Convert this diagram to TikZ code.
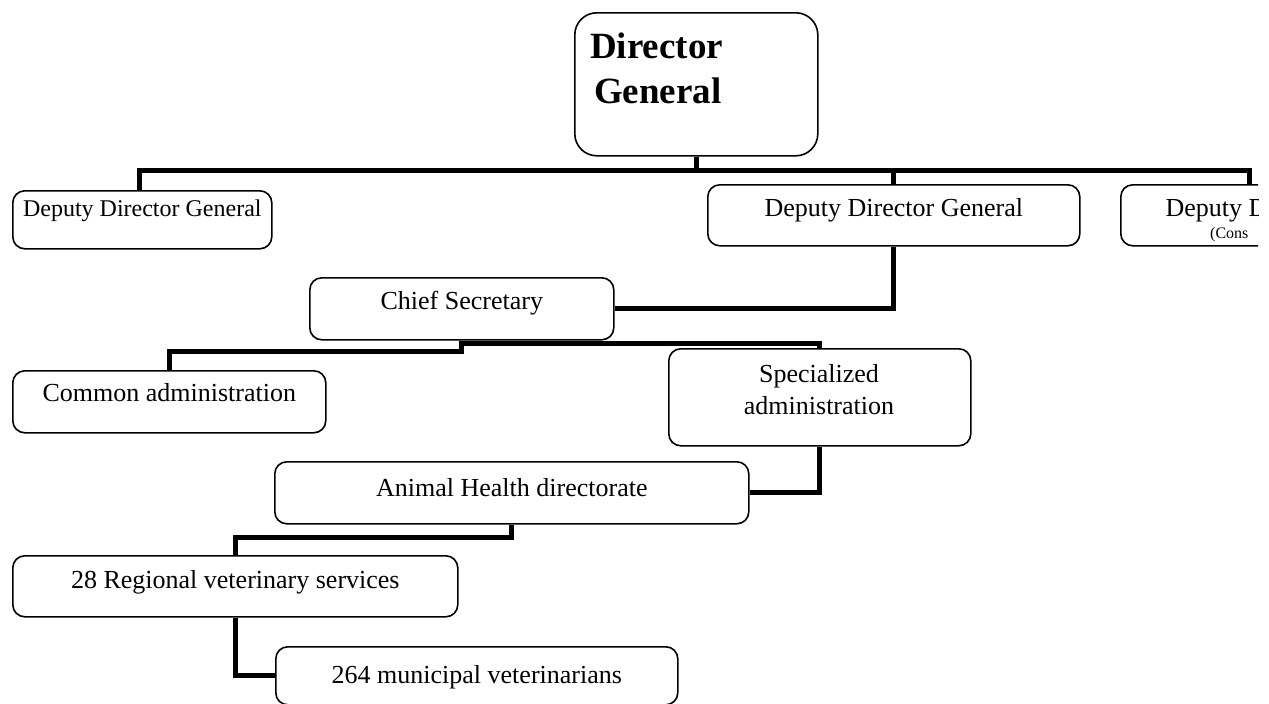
\documentclass[tikz,border=0pt]{standalone}
\usepackage{fontspec}
\setmainfont{Liberation Serif}
\begin{document}
\begin{tikzpicture}[x=1pt,y=-1pt,
  box/.style={draw=black, line width=1.6pt, rounded corners=12pt, inner xsep=0pt, inner ysep=0pt,
              anchor=north west, font=\fontsize{26}{30}\selectfont},
  lbl/.style={inner sep=0pt, font=\fontsize{26}{32}\selectfont},
  conn/.style={draw=black, line width=5pt, line join=miter}]
\useasboundingbox (0,0) rectangle (1269,704);
\clip (0,0) rectangle (1258,704);

% boxes
\node[box, rounded corners=22pt, minimum width=243pt, minimum height=143pt] (dg) at (574,12) {};
\node[lbl, anchor=base west, font=\bfseries\fontsize{37}{45}\selectfont] (dgt1) at (590,58) {Director};
\node[lbl, anchor=base west, font=\bfseries\fontsize{37}{45}\selectfont] (dgt2) at (594,103) {General};

\node[box, font=\fontsize{24}{28}\selectfont, minimum width=259pt, text height=26pt, text depth=32pt] (ddgL) at (12,190) {Deputy Director General};
\node[box, minimum width=372pt, text height=32pt, text depth=29pt] (ddgM) at (707,184) {Deputy Director General};
\node[box, minimum width=348pt, text height=32pt, text depth=29pt] (ddgR) at (1120,184) {Deputy Director General};
\node[lbl, anchor=base west, font=\fontsize{16}{18}\selectfont] (ddgRsub) at (1210,238) {(Cons};

\node[box, minimum width=304pt, text height=32pt, text depth=30pt] (cs) at (309,277) {Chief Secretary};
\node[box, minimum width=313pt, text height=31pt, text depth=31pt] (ca) at (12,370) {Common administration};
\node[box, minimum width=302pt, minimum height=97pt] (sa) at (668,348) {};
\node[lbl, anchor=north, align=center] (sat) at (819,364) {Specialized\\administration};
\node[box, minimum width=474pt, text height=35pt, text depth=27pt] (ah) at (274,461) {Animal Health directorate};
\node[box, minimum width=445pt, text height=33pt, text depth=28pt] (rv) at (12,555) {28 Regional veterinary services};
\node[box, minimum width=402pt, text height=37pt, text depth=21pt] (mv) at (275,646) {264 municipal veterinarians};

% connectors
\coordinate (busL) at (139,170);
\coordinate (busR) at (1249,170);
\draw[conn] (ddgL.north -| busL) -- (busL) -- (busR) -- (ddgR.north -| busR);
\draw[conn] (dg.south) -- (dg.south |- busL);
\draw[conn] (ddgM.north) -- (ddgM.north |- busL);
\draw[conn] (ddgM.south) |- (cs.east);
\coordinate (csbusA) at (461,351);
\coordinate (csbusB) at (461,343);
\draw[conn] (cs.south) -- (cs.south |- csbusA) -| (ca.north);
\draw[conn] (cs.south |- csbusB) -| (sa.north);
\draw[conn] (sa.south) |- (ah.east);
\coordinate (ahbus) at (511,537);
\draw[conn] (ah.south) -- (ah.south |- ahbus) -| (rv.north);
\draw[conn] (rv.south) |- (mv.west);
\end{tikzpicture}
\end{document}
